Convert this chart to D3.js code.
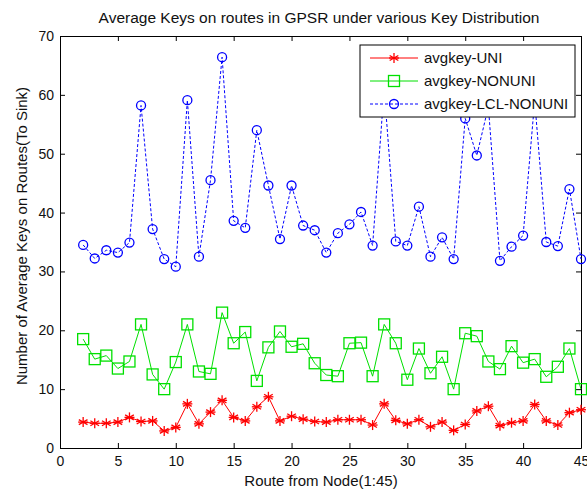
<!DOCTYPE html>
<html>
<head>
<meta charset="utf-8">
<script src="https://cdn.jsdelivr.net/npm/d3@7"></script>
<style>
body { margin: 0; background: #fff; }
text { font-family: "Liberation Sans", Arial, sans-serif; fill: #111; }
</style>
</head>
<body>
<div id="chart"></div>
<script>
// routes 2..45
var routes = d3.range(2, 46);
var avgUni = [4.4, 4.2, 4.2, 4.4, 5.2, 4.5, 4.6, 2.9, 3.5, 7.5, 4.1, 6.1, 8.1, 5.2, 4.6, 7.0, 8.7, 4.6, 5.4, 4.9,
  4.5, 4.4, 4.8, 4.8, 4.8, 3.9, 7.5, 4.7, 4.1, 4.8, 3.6, 4.4, 3.0, 4.0, 6.3, 7.1, 3.8, 4.3, 4.6, 7.4, 4.6, 3.9, 6.0, 6.5];
var avgNonuni = [18.5, 15.1, 15.7, 13.5, 14.7, 21.0, 12.5, 10.0, 14.6, 21.0, 13.0, 12.6, 23.0, 17.8, 19.7, 11.4, 17.1, 19.8, 17.2, 17.7,
  14.4, 12.4, 12.2, 17.8, 17.9, 12.2, 21.0, 17.8, 11.6, 16.9, 12.7, 15.5, 10.0, 19.5, 19.0, 14.7, 13.4, 17.3, 14.5, 15.1, 12.1, 13.8, 16.9, 10.0];
var avgLclNonuni = [34.5, 32.2, 33.6, 33.2, 34.9, 58.2, 37.2, 32.1, 30.8, 59.1, 32.5, 45.5, 66.4, 38.6, 37.4, 54.0, 44.6, 35.5, 44.6, 37.8,
  37.0, 33.2, 36.5, 38.0, 40.1, 34.4, 61.0, 35.1, 34.4, 41.0, 32.5, 35.8, 32.1, 56.0, 49.7, 58.0, 31.8, 34.2, 36.1, 59.0, 35.0, 34.3, 44.0, 32.1];
var seriesNames = ["avgkey-UNI", "avgkey-NONUNI", "avgkey-LCL-NONUNI"];
var xTicks = d3.range(0, 46, 5);
var yTicks = d3.range(0, 71, 10);

var W = 587, H = 493;
var mLeft = 60, mRight = 581, mTop = 36, mBottom = 448;

var svg = d3.select("#chart").append("svg").attr("width", W).attr("height", H);

var x = d3.scaleLinear().domain([0, 45]).range([mLeft, mRight]);
var y = d3.scaleLinear().domain([0, 70]).range([mBottom, mTop]);

// axes, matlab style box with inward ticks
svg.append("g").attr("transform", "translate(0," + mBottom + ")")
  .call(d3.axisBottom(x).tickValues(xTicks).tickSizeInner(-5).tickSizeOuter(0).tickPadding(8));
svg.append("g").attr("transform", "translate(0," + mTop + ")")
  .call(d3.axisTop(x).tickValues(xTicks).tickSizeInner(-5).tickSizeOuter(0).tickFormat(""));
svg.append("g").attr("transform", "translate(" + mLeft + ",0)")
  .call(d3.axisLeft(y).tickValues(yTicks).tickSizeInner(-5).tickSizeOuter(0).tickPadding(6));
svg.append("g").attr("transform", "translate(" + mRight + ",0)")
  .call(d3.axisRight(y).tickValues(yTicks).tickSizeInner(-5).tickSizeOuter(0).tickFormat(""));
svg.selectAll(".domain").attr("stroke", "#000");
svg.selectAll(".tick line").attr("stroke", "#000");
svg.selectAll(".tick text").style("font-size", "14px").attr("fill", "#111");

svg.append("text").attr("x", 319).attr("y", 23).attr("text-anchor", "middle")
  .style("font-size", "15.5px").text("Average Keys on routes in GPSR under various Key Distribution");
svg.append("text").attr("x", 321).attr("y", 486).attr("text-anchor", "middle")
  .style("font-size", "15px").text("Route from Node(1:45)");
svg.append("text").attr("transform", "translate(27,236) rotate(-90)")
  .attr("text-anchor", "middle").style("font-size", "15px").text("Number of Average Keys on Routes(To Sink)");

var line = d3.line().x(function(d, i) { return x(routes[i]); }).y(function(d) { return y(d); });

function drawStar(g, cx, cy, col) {
  var r = 5;
  [0, 60, 120].forEach(function(a) {
    var t = a * Math.PI / 180;
    g.append("line").attr("x1", cx - r * Math.sin(t)).attr("y1", cy - r * Math.cos(t))
      .attr("x2", cx + r * Math.sin(t)).attr("y2", cy + r * Math.cos(t))
      .attr("stroke", col).attr("stroke-width", 1.3);
  });
  g.append("line").attr("x1", cx - r).attr("x2", cx + r).attr("y1", cy).attr("y2", cy)
    .attr("stroke", col).attr("stroke-width", 1.3);
}
function drawSquare(g, cx, cy, col) {
  g.append("rect").attr("x", cx - 5.5).attr("y", cy - 5.5).attr("width", 11).attr("height", 11)
    .attr("fill", "none").attr("stroke", col).attr("stroke-width", 1.3);
}
function drawCircle(g, cx, cy, col) {
  g.append("circle").attr("cx", cx).attr("cy", cy).attr("r", 4.5)
    .attr("fill", "none").attr("stroke", col).attr("stroke-width", 1.3);
}

var series = [
  { name: seriesNames[0], values: avgUni, color: "#ff0000", dash: null, marker: drawStar },
  { name: seriesNames[1], values: avgNonuni, color: "#00e000", dash: null, marker: drawSquare },
  { name: seriesNames[2], values: avgLclNonuni, color: "#0000ff", dash: "3,2", marker: drawCircle }
];

series.forEach(function(s) {
  var g = svg.append("g");
  g.append("path").datum(s.values).attr("d", line).attr("fill", "none")
    .attr("stroke", s.color).attr("stroke-width", 1).attr("stroke-dasharray", s.dash);
  s.values.forEach(function(v, i) { s.marker(g, x(routes[i]), y(v), s.color); });
});

// legend
var lg = svg.append("g");
lg.append("rect").attr("x", 360).attr("y", 45).attr("width", 215).attr("height", 72)
  .attr("fill", "#fff").attr("stroke", "#000").attr("stroke-width", 1);
series.forEach(function(s, i) {
  var ly = 58 + i * 23;
  lg.append("line").attr("x1", 370).attr("x2", 418).attr("y1", ly).attr("y2", ly)
    .attr("stroke", s.color).attr("stroke-width", 1).attr("stroke-dasharray", s.dash);
  s.marker(lg, 394, ly, s.color);
  lg.append("text").attr("x", 424).attr("y", ly + 5).style("font-size", "15px").text(s.name);
});
</script>
</body>
</html>
